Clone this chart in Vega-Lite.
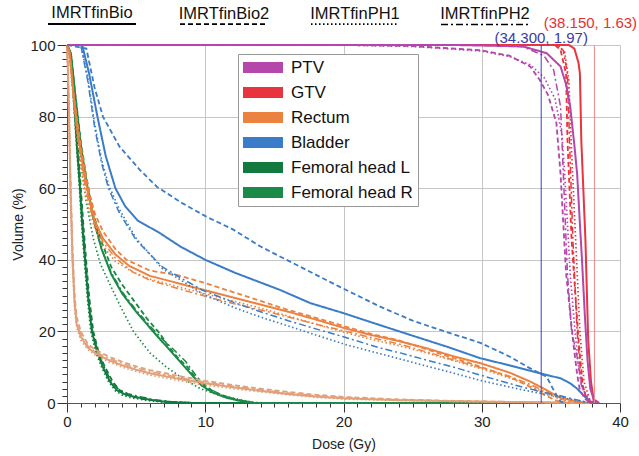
{
"$schema": "https://vega.github.io/schema/vega-lite/v6.json",
"width": 553, "height": 358,
"autosize": {"type": "none"},
"padding": {"left": 67, "top": 45, "right": 19, "bottom": 53},
"config": {"font": "Liberation Sans", "view": {"stroke": null}},
"layer": [
{
"data": {"values": [
{"organ":"Femoral head L","plan":"IMRTfinBio","dose":0,"vol":100},{"organ":"Femoral head L","plan":"IMRTfinBio","dose":0.25,"vol":98},{"organ":"Femoral head L","plan":"IMRTfinBio","dose":0.4,"vol":90},{"organ":"Femoral head L","plan":"IMRTfinBio","dose":0.58,"vol":80},{"organ":"Femoral head L","plan":"IMRTfinBio","dose":0.75,"vol":70},{"organ":"Femoral head L","plan":"IMRTfinBio","dose":0.94,"vol":60},{"organ":"Femoral head L","plan":"IMRTfinBio","dose":1.1,"vol":50},{"organ":"Femoral head L","plan":"IMRTfinBio","dose":1.3,"vol":40},{"organ":"Femoral head L","plan":"IMRTfinBio","dose":1.54,"vol":29},{"organ":"Femoral head L","plan":"IMRTfinBio","dose":1.8,"vol":20},{"organ":"Femoral head L","plan":"IMRTfinBio","dose":2.2,"vol":14},{"organ":"Femoral head L","plan":"IMRTfinBio","dose":2.6,"vol":10},{"organ":"Femoral head L","plan":"IMRTfinBio","dose":3.1,"vol":6},{"organ":"Femoral head L","plan":"IMRTfinBio","dose":3.6,"vol":3.6},{"organ":"Femoral head L","plan":"IMRTfinBio","dose":4.2,"vol":2.4},{"organ":"Femoral head L","plan":"IMRTfinBio","dose":4.8,"vol":1.8},{"organ":"Femoral head L","plan":"IMRTfinBio","dose":6,"vol":0.9},{"organ":"Femoral head L","plan":"IMRTfinBio","dose":7.2,"vol":0.3},{"organ":"Femoral head L","plan":"IMRTfinBio","dose":9,"vol":0},{"organ":"Femoral head L","plan":"IMRTfinBio","dose":38,"vol":0},
{"organ":"Femoral head L","plan":"IMRTfinBio2","dose":0,"vol":100},{"organ":"Femoral head L","plan":"IMRTfinBio2","dose":0.25,"vol":98},{"organ":"Femoral head L","plan":"IMRTfinBio2","dose":0.45,"vol":90},{"organ":"Femoral head L","plan":"IMRTfinBio2","dose":0.65,"vol":80},{"organ":"Femoral head L","plan":"IMRTfinBio2","dose":0.82,"vol":70},{"organ":"Femoral head L","plan":"IMRTfinBio2","dose":1,"vol":60},{"organ":"Femoral head L","plan":"IMRTfinBio2","dose":1.18,"vol":50},{"organ":"Femoral head L","plan":"IMRTfinBio2","dose":1.38,"vol":40},{"organ":"Femoral head L","plan":"IMRTfinBio2","dose":1.62,"vol":29},{"organ":"Femoral head L","plan":"IMRTfinBio2","dose":1.9,"vol":20},{"organ":"Femoral head L","plan":"IMRTfinBio2","dose":2.3,"vol":14},{"organ":"Femoral head L","plan":"IMRTfinBio2","dose":2.75,"vol":10},{"organ":"Femoral head L","plan":"IMRTfinBio2","dose":3.3,"vol":6},{"organ":"Femoral head L","plan":"IMRTfinBio2","dose":3.8,"vol":3.6},{"organ":"Femoral head L","plan":"IMRTfinBio2","dose":4.4,"vol":2.2},{"organ":"Femoral head L","plan":"IMRTfinBio2","dose":5.2,"vol":1.3},{"organ":"Femoral head L","plan":"IMRTfinBio2","dose":6.5,"vol":0.6},{"organ":"Femoral head L","plan":"IMRTfinBio2","dose":8,"vol":0.2},{"organ":"Femoral head L","plan":"IMRTfinBio2","dose":9.5,"vol":0},
{"organ":"Femoral head L","plan":"IMRTfinPH1","dose":0,"vol":100},{"organ":"Femoral head L","plan":"IMRTfinPH1","dose":0.2,"vol":98},{"organ":"Femoral head L","plan":"IMRTfinPH1","dose":0.38,"vol":90},{"organ":"Femoral head L","plan":"IMRTfinPH1","dose":0.55,"vol":80},{"organ":"Femoral head L","plan":"IMRTfinPH1","dose":0.72,"vol":70},{"organ":"Femoral head L","plan":"IMRTfinPH1","dose":0.9,"vol":60},{"organ":"Femoral head L","plan":"IMRTfinPH1","dose":1.05,"vol":50},{"organ":"Femoral head L","plan":"IMRTfinPH1","dose":1.25,"vol":40},{"organ":"Femoral head L","plan":"IMRTfinPH1","dose":1.48,"vol":29},{"organ":"Femoral head L","plan":"IMRTfinPH1","dose":1.72,"vol":20},{"organ":"Femoral head L","plan":"IMRTfinPH1","dose":2.1,"vol":14},{"organ":"Femoral head L","plan":"IMRTfinPH1","dose":2.5,"vol":10},{"organ":"Femoral head L","plan":"IMRTfinPH1","dose":3,"vol":6},{"organ":"Femoral head L","plan":"IMRTfinPH1","dose":3.5,"vol":3.4},{"organ":"Femoral head L","plan":"IMRTfinPH1","dose":4,"vol":2.2},{"organ":"Femoral head L","plan":"IMRTfinPH1","dose":4.6,"vol":1.5},{"organ":"Femoral head L","plan":"IMRTfinPH1","dose":5.8,"vol":0.7},{"organ":"Femoral head L","plan":"IMRTfinPH1","dose":7,"vol":0.2},{"organ":"Femoral head L","plan":"IMRTfinPH1","dose":8.5,"vol":0},
{"organ":"Femoral head L","plan":"IMRTfinPH2","dose":0,"vol":100},{"organ":"Femoral head L","plan":"IMRTfinPH2","dose":0.25,"vol":98},{"organ":"Femoral head L","plan":"IMRTfinPH2","dose":0.42,"vol":90},{"organ":"Femoral head L","plan":"IMRTfinPH2","dose":0.6,"vol":80},{"organ":"Femoral head L","plan":"IMRTfinPH2","dose":0.78,"vol":70},{"organ":"Femoral head L","plan":"IMRTfinPH2","dose":0.97,"vol":60},{"organ":"Femoral head L","plan":"IMRTfinPH2","dose":1.14,"vol":50},{"organ":"Femoral head L","plan":"IMRTfinPH2","dose":1.34,"vol":40},{"organ":"Femoral head L","plan":"IMRTfinPH2","dose":1.58,"vol":29},{"organ":"Femoral head L","plan":"IMRTfinPH2","dose":1.85,"vol":20},{"organ":"Femoral head L","plan":"IMRTfinPH2","dose":2.25,"vol":14},{"organ":"Femoral head L","plan":"IMRTfinPH2","dose":2.7,"vol":10},{"organ":"Femoral head L","plan":"IMRTfinPH2","dose":3.2,"vol":6},{"organ":"Femoral head L","plan":"IMRTfinPH2","dose":3.75,"vol":3.8},{"organ":"Femoral head L","plan":"IMRTfinPH2","dose":4.4,"vol":2.6},{"organ":"Femoral head L","plan":"IMRTfinPH2","dose":5,"vol":2},{"organ":"Femoral head L","plan":"IMRTfinPH2","dose":6.2,"vol":1},{"organ":"Femoral head L","plan":"IMRTfinPH2","dose":7.5,"vol":0.4},{"organ":"Femoral head L","plan":"IMRTfinPH2","dose":9.5,"vol":0},
{"organ":"Femoral head R","plan":"IMRTfinBio","dose":0,"vol":100},{"organ":"Femoral head R","plan":"IMRTfinBio","dose":0.3,"vol":97},{"organ":"Femoral head R","plan":"IMRTfinBio","dose":0.6,"vol":86},{"organ":"Femoral head R","plan":"IMRTfinBio","dose":1,"vol":72},{"organ":"Femoral head R","plan":"IMRTfinBio","dose":1.4,"vol":62},{"organ":"Femoral head R","plan":"IMRTfinBio","dose":1.9,"vol":52},{"organ":"Femoral head R","plan":"IMRTfinBio","dose":2.5,"vol":43},{"organ":"Femoral head R","plan":"IMRTfinBio","dose":3.2,"vol":36},{"organ":"Femoral head R","plan":"IMRTfinBio","dose":4,"vol":30.5},{"organ":"Femoral head R","plan":"IMRTfinBio","dose":5,"vol":25.5},{"organ":"Femoral head R","plan":"IMRTfinBio","dose":6,"vol":21},{"organ":"Femoral head R","plan":"IMRTfinBio","dose":6.8,"vol":17.5},{"organ":"Femoral head R","plan":"IMRTfinBio","dose":7.5,"vol":14.5},{"organ":"Femoral head R","plan":"IMRTfinBio","dose":8.3,"vol":11},{"organ":"Femoral head R","plan":"IMRTfinBio","dose":9,"vol":8},{"organ":"Femoral head R","plan":"IMRTfinBio","dose":9.7,"vol":5},{"organ":"Femoral head R","plan":"IMRTfinBio","dose":10.5,"vol":3},{"organ":"Femoral head R","plan":"IMRTfinBio","dose":11.5,"vol":1.5},{"organ":"Femoral head R","plan":"IMRTfinBio","dose":12.5,"vol":0.6},{"organ":"Femoral head R","plan":"IMRTfinBio","dose":13.5,"vol":0},{"organ":"Femoral head R","plan":"IMRTfinBio","dose":38,"vol":0},
{"organ":"Femoral head R","plan":"IMRTfinBio2","dose":0,"vol":100},{"organ":"Femoral head R","plan":"IMRTfinBio2","dose":0.3,"vol":97},{"organ":"Femoral head R","plan":"IMRTfinBio2","dose":0.6,"vol":86},{"organ":"Femoral head R","plan":"IMRTfinBio2","dose":1,"vol":73},{"organ":"Femoral head R","plan":"IMRTfinBio2","dose":1.4,"vol":63},{"organ":"Femoral head R","plan":"IMRTfinBio2","dose":1.9,"vol":53},{"organ":"Femoral head R","plan":"IMRTfinBio2","dose":2.5,"vol":45},{"organ":"Femoral head R","plan":"IMRTfinBio2","dose":3.2,"vol":38},{"organ":"Femoral head R","plan":"IMRTfinBio2","dose":4,"vol":33},{"organ":"Femoral head R","plan":"IMRTfinBio2","dose":4.8,"vol":28.8},{"organ":"Femoral head R","plan":"IMRTfinBio2","dose":5.8,"vol":23.5},{"organ":"Femoral head R","plan":"IMRTfinBio2","dose":6.7,"vol":19.5},{"organ":"Femoral head R","plan":"IMRTfinBio2","dose":7.4,"vol":15.5},{"organ":"Femoral head R","plan":"IMRTfinBio2","dose":8,"vol":12.7},{"organ":"Femoral head R","plan":"IMRTfinBio2","dose":8.7,"vol":10.1},{"organ":"Femoral head R","plan":"IMRTfinBio2","dose":9.6,"vol":5.6},{"organ":"Femoral head R","plan":"IMRTfinBio2","dose":10.8,"vol":2.8},{"organ":"Femoral head R","plan":"IMRTfinBio2","dose":11.8,"vol":1.4},{"organ":"Femoral head R","plan":"IMRTfinBio2","dose":12.5,"vol":0.8},{"organ":"Femoral head R","plan":"IMRTfinBio2","dose":13.5,"vol":0},
{"organ":"Femoral head R","plan":"IMRTfinPH1","dose":0,"vol":100},{"organ":"Femoral head R","plan":"IMRTfinPH1","dose":0.3,"vol":96},{"organ":"Femoral head R","plan":"IMRTfinPH1","dose":0.6,"vol":83},{"organ":"Femoral head R","plan":"IMRTfinPH1","dose":1,"vol":67},{"organ":"Femoral head R","plan":"IMRTfinPH1","dose":1.4,"vol":56},{"organ":"Femoral head R","plan":"IMRTfinPH1","dose":1.9,"vol":46},{"organ":"Femoral head R","plan":"IMRTfinPH1","dose":2.4,"vol":39},{"organ":"Femoral head R","plan":"IMRTfinPH1","dose":3,"vol":34},{"organ":"Femoral head R","plan":"IMRTfinPH1","dose":3.8,"vol":27.5},{"organ":"Femoral head R","plan":"IMRTfinPH1","dose":4.8,"vol":20},{"organ":"Femoral head R","plan":"IMRTfinPH1","dose":6,"vol":14},{"organ":"Femoral head R","plan":"IMRTfinPH1","dose":7.2,"vol":10},{"organ":"Femoral head R","plan":"IMRTfinPH1","dose":8.4,"vol":6.8},{"organ":"Femoral head R","plan":"IMRTfinPH1","dose":9.6,"vol":4.1},{"organ":"Femoral head R","plan":"IMRTfinPH1","dose":10.8,"vol":2.4},{"organ":"Femoral head R","plan":"IMRTfinPH1","dose":12,"vol":1.4},{"organ":"Femoral head R","plan":"IMRTfinPH1","dose":13,"vol":0.5},{"organ":"Femoral head R","plan":"IMRTfinPH1","dose":13.9,"vol":0},
{"organ":"Femoral head R","plan":"IMRTfinPH2","dose":0,"vol":100},{"organ":"Femoral head R","plan":"IMRTfinPH2","dose":0.3,"vol":97},{"organ":"Femoral head R","plan":"IMRTfinPH2","dose":0.6,"vol":85},{"organ":"Femoral head R","plan":"IMRTfinPH2","dose":1,"vol":71},{"organ":"Femoral head R","plan":"IMRTfinPH2","dose":1.4,"vol":61},{"organ":"Femoral head R","plan":"IMRTfinPH2","dose":1.9,"vol":51},{"organ":"Femoral head R","plan":"IMRTfinPH2","dose":2.5,"vol":43},{"organ":"Femoral head R","plan":"IMRTfinPH2","dose":3.2,"vol":36.5},{"organ":"Femoral head R","plan":"IMRTfinPH2","dose":4,"vol":31},{"organ":"Femoral head R","plan":"IMRTfinPH2","dose":5,"vol":26},{"organ":"Femoral head R","plan":"IMRTfinPH2","dose":6,"vol":21.5},{"organ":"Femoral head R","plan":"IMRTfinPH2","dose":7,"vol":17.5},{"organ":"Femoral head R","plan":"IMRTfinPH2","dose":7.8,"vol":14.6},{"organ":"Femoral head R","plan":"IMRTfinPH2","dose":8.6,"vol":11.5},{"organ":"Femoral head R","plan":"IMRTfinPH2","dose":9.4,"vol":7.3},{"organ":"Femoral head R","plan":"IMRTfinPH2","dose":10.2,"vol":4.2},{"organ":"Femoral head R","plan":"IMRTfinPH2","dose":11.2,"vol":2.2},{"organ":"Femoral head R","plan":"IMRTfinPH2","dose":12.2,"vol":1},{"organ":"Femoral head R","plan":"IMRTfinPH2","dose":13.2,"vol":0.3},{"organ":"Femoral head R","plan":"IMRTfinPH2","dose":14,"vol":0},
{"organ":"Body","plan":"IMRTfinBio","dose":0,"vol":100},{"organ":"Body","plan":"IMRTfinBio","dose":0.05,"vol":95},{"organ":"Body","plan":"IMRTfinBio","dose":0.15,"vol":80},{"organ":"Body","plan":"IMRTfinBio","dose":0.25,"vol":60},{"organ":"Body","plan":"IMRTfinBio","dose":0.4,"vol":40},{"organ":"Body","plan":"IMRTfinBio","dose":0.55,"vol":28},{"organ":"Body","plan":"IMRTfinBio","dose":0.7,"vol":22},{"organ":"Body","plan":"IMRTfinBio","dose":1,"vol":18.5},{"organ":"Body","plan":"IMRTfinBio","dose":1.5,"vol":15.5},{"organ":"Body","plan":"IMRTfinBio","dose":2,"vol":14},{"organ":"Body","plan":"IMRTfinBio","dose":3,"vol":12},{"organ":"Body","plan":"IMRTfinBio","dose":4,"vol":10.5},{"organ":"Body","plan":"IMRTfinBio","dose":5,"vol":9.3},{"organ":"Body","plan":"IMRTfinBio","dose":6,"vol":8.3},{"organ":"Body","plan":"IMRTfinBio","dose":8,"vol":6.8},{"organ":"Body","plan":"IMRTfinBio","dose":10,"vol":5.5},{"organ":"Body","plan":"IMRTfinBio","dose":12,"vol":4.4},{"organ":"Body","plan":"IMRTfinBio","dose":14,"vol":3.4},{"organ":"Body","plan":"IMRTfinBio","dose":16,"vol":2.5},{"organ":"Body","plan":"IMRTfinBio","dose":18,"vol":1.8},{"organ":"Body","plan":"IMRTfinBio","dose":20,"vol":1.3},{"organ":"Body","plan":"IMRTfinBio","dose":24,"vol":0.8},{"organ":"Body","plan":"IMRTfinBio","dose":28,"vol":0.5},{"organ":"Body","plan":"IMRTfinBio","dose":32,"vol":0.3},{"organ":"Body","plan":"IMRTfinBio","dose":36,"vol":0.1},{"organ":"Body","plan":"IMRTfinBio","dose":38,"vol":0},
{"organ":"Body","plan":"IMRTfinBio2","dose":0,"vol":100},{"organ":"Body","plan":"IMRTfinBio2","dose":0.05,"vol":96},{"organ":"Body","plan":"IMRTfinBio2","dose":0.15,"vol":82},{"organ":"Body","plan":"IMRTfinBio2","dose":0.25,"vol":63},{"organ":"Body","plan":"IMRTfinBio2","dose":0.4,"vol":43},{"organ":"Body","plan":"IMRTfinBio2","dose":0.55,"vol":30},{"organ":"Body","plan":"IMRTfinBio2","dose":0.7,"vol":24},{"organ":"Body","plan":"IMRTfinBio2","dose":1,"vol":20},{"organ":"Body","plan":"IMRTfinBio2","dose":1.5,"vol":16.5},{"organ":"Body","plan":"IMRTfinBio2","dose":2,"vol":15},{"organ":"Body","plan":"IMRTfinBio2","dose":3,"vol":13},{"organ":"Body","plan":"IMRTfinBio2","dose":4,"vol":11.5},{"organ":"Body","plan":"IMRTfinBio2","dose":5,"vol":10.2},{"organ":"Body","plan":"IMRTfinBio2","dose":6,"vol":9.2},{"organ":"Body","plan":"IMRTfinBio2","dose":8,"vol":7.6},{"organ":"Body","plan":"IMRTfinBio2","dose":10,"vol":6.2},{"organ":"Body","plan":"IMRTfinBio2","dose":12,"vol":5},{"organ":"Body","plan":"IMRTfinBio2","dose":14,"vol":4},{"organ":"Body","plan":"IMRTfinBio2","dose":16,"vol":3.1},{"organ":"Body","plan":"IMRTfinBio2","dose":18,"vol":2.3},{"organ":"Body","plan":"IMRTfinBio2","dose":20,"vol":1.7},{"organ":"Body","plan":"IMRTfinBio2","dose":24,"vol":1},{"organ":"Body","plan":"IMRTfinBio2","dose":28,"vol":0.6},{"organ":"Body","plan":"IMRTfinBio2","dose":32,"vol":0.3},{"organ":"Body","plan":"IMRTfinBio2","dose":36,"vol":0.1},{"organ":"Body","plan":"IMRTfinBio2","dose":38,"vol":0},
{"organ":"Body","plan":"IMRTfinPH1","dose":0,"vol":100},{"organ":"Body","plan":"IMRTfinPH1","dose":0.05,"vol":94},{"organ":"Body","plan":"IMRTfinPH1","dose":0.15,"vol":78},{"organ":"Body","plan":"IMRTfinPH1","dose":0.25,"vol":58},{"organ":"Body","plan":"IMRTfinPH1","dose":0.4,"vol":38},{"organ":"Body","plan":"IMRTfinPH1","dose":0.55,"vol":26},{"organ":"Body","plan":"IMRTfinPH1","dose":0.7,"vol":21},{"organ":"Body","plan":"IMRTfinPH1","dose":1,"vol":17.5},{"organ":"Body","plan":"IMRTfinPH1","dose":1.5,"vol":15},{"organ":"Body","plan":"IMRTfinPH1","dose":2,"vol":13.5},{"organ":"Body","plan":"IMRTfinPH1","dose":3,"vol":11.5},{"organ":"Body","plan":"IMRTfinPH1","dose":4,"vol":10},{"organ":"Body","plan":"IMRTfinPH1","dose":5,"vol":8.8},{"organ":"Body","plan":"IMRTfinPH1","dose":6,"vol":7.8},{"organ":"Body","plan":"IMRTfinPH1","dose":8,"vol":6.3},{"organ":"Body","plan":"IMRTfinPH1","dose":10,"vol":5},{"organ":"Body","plan":"IMRTfinPH1","dose":12,"vol":4},{"organ":"Body","plan":"IMRTfinPH1","dose":14,"vol":3.1},{"organ":"Body","plan":"IMRTfinPH1","dose":16,"vol":2.3},{"organ":"Body","plan":"IMRTfinPH1","dose":18,"vol":1.6},{"organ":"Body","plan":"IMRTfinPH1","dose":20,"vol":1.1},{"organ":"Body","plan":"IMRTfinPH1","dose":24,"vol":0.7},{"organ":"Body","plan":"IMRTfinPH1","dose":28,"vol":0.4},{"organ":"Body","plan":"IMRTfinPH1","dose":32,"vol":0.2},{"organ":"Body","plan":"IMRTfinPH1","dose":36,"vol":0.1},{"organ":"Body","plan":"IMRTfinPH1","dose":38,"vol":0},
{"organ":"Body","plan":"IMRTfinPH2","dose":0,"vol":100},{"organ":"Body","plan":"IMRTfinPH2","dose":0.05,"vol":95},{"organ":"Body","plan":"IMRTfinPH2","dose":0.15,"vol":80},{"organ":"Body","plan":"IMRTfinPH2","dose":0.25,"vol":61},{"organ":"Body","plan":"IMRTfinPH2","dose":0.4,"vol":41},{"organ":"Body","plan":"IMRTfinPH2","dose":0.55,"vol":29},{"organ":"Body","plan":"IMRTfinPH2","dose":0.7,"vol":23},{"organ":"Body","plan":"IMRTfinPH2","dose":1,"vol":19},{"organ":"Body","plan":"IMRTfinPH2","dose":1.5,"vol":16},{"organ":"Body","plan":"IMRTfinPH2","dose":2,"vol":14.5},{"organ":"Body","plan":"IMRTfinPH2","dose":3,"vol":12.5},{"organ":"Body","plan":"IMRTfinPH2","dose":4,"vol":11},{"organ":"Body","plan":"IMRTfinPH2","dose":5,"vol":9.8},{"organ":"Body","plan":"IMRTfinPH2","dose":6,"vol":8.8},{"organ":"Body","plan":"IMRTfinPH2","dose":8,"vol":7.2},{"organ":"Body","plan":"IMRTfinPH2","dose":10,"vol":5.8},{"organ":"Body","plan":"IMRTfinPH2","dose":12,"vol":4.7},{"organ":"Body","plan":"IMRTfinPH2","dose":14,"vol":3.7},{"organ":"Body","plan":"IMRTfinPH2","dose":16,"vol":2.8},{"organ":"Body","plan":"IMRTfinPH2","dose":18,"vol":2},{"organ":"Body","plan":"IMRTfinPH2","dose":20,"vol":1.5},{"organ":"Body","plan":"IMRTfinPH2","dose":24,"vol":0.9},{"organ":"Body","plan":"IMRTfinPH2","dose":28,"vol":0.5},{"organ":"Body","plan":"IMRTfinPH2","dose":32,"vol":0.3},{"organ":"Body","plan":"IMRTfinPH2","dose":36,"vol":0.1},{"organ":"Body","plan":"IMRTfinPH2","dose":38,"vol":0},
{"organ":"Rectum","plan":"IMRTfinBio","dose":0,"vol":100},{"organ":"Rectum","plan":"IMRTfinBio","dose":0.2,"vol":98},{"organ":"Rectum","plan":"IMRTfinBio","dose":0.5,"vol":85},{"organ":"Rectum","plan":"IMRTfinBio","dose":0.8,"vol":75},{"organ":"Rectum","plan":"IMRTfinBio","dose":1.2,"vol":65},{"organ":"Rectum","plan":"IMRTfinBio","dose":1.6,"vol":57},{"organ":"Rectum","plan":"IMRTfinBio","dose":2,"vol":51},{"organ":"Rectum","plan":"IMRTfinBio","dose":2.6,"vol":46},{"organ":"Rectum","plan":"IMRTfinBio","dose":3.5,"vol":41.5},{"organ":"Rectum","plan":"IMRTfinBio","dose":4.5,"vol":38.3},{"organ":"Rectum","plan":"IMRTfinBio","dose":6,"vol":35.5},{"organ":"Rectum","plan":"IMRTfinBio","dose":8,"vol":33.5},{"organ":"Rectum","plan":"IMRTfinBio","dose":10,"vol":31.5},{"organ":"Rectum","plan":"IMRTfinBio","dose":12,"vol":29.5},{"organ":"Rectum","plan":"IMRTfinBio","dose":14,"vol":27.5},{"organ":"Rectum","plan":"IMRTfinBio","dose":16,"vol":25.5},{"organ":"Rectum","plan":"IMRTfinBio","dose":18,"vol":23.3},{"organ":"Rectum","plan":"IMRTfinBio","dose":20,"vol":21},{"organ":"Rectum","plan":"IMRTfinBio","dose":22,"vol":19},{"organ":"Rectum","plan":"IMRTfinBio","dose":24,"vol":17.3},{"organ":"Rectum","plan":"IMRTfinBio","dose":26,"vol":15.3},{"organ":"Rectum","plan":"IMRTfinBio","dose":28,"vol":13},{"organ":"Rectum","plan":"IMRTfinBio","dose":30,"vol":11},{"organ":"Rectum","plan":"IMRTfinBio","dose":32,"vol":8.5},{"organ":"Rectum","plan":"IMRTfinBio","dose":33.5,"vol":6},{"organ":"Rectum","plan":"IMRTfinBio","dose":34.7,"vol":3.6},{"organ":"Rectum","plan":"IMRTfinBio","dose":35.5,"vol":1.8},{"organ":"Rectum","plan":"IMRTfinBio","dose":36.6,"vol":0.6},{"organ":"Rectum","plan":"IMRTfinBio","dose":37.5,"vol":0},
{"organ":"Rectum","plan":"IMRTfinBio2","dose":0,"vol":100},{"organ":"Rectum","plan":"IMRTfinBio2","dose":0.2,"vol":97},{"organ":"Rectum","plan":"IMRTfinBio2","dose":0.5,"vol":86},{"organ":"Rectum","plan":"IMRTfinBio2","dose":0.8,"vol":77},{"organ":"Rectum","plan":"IMRTfinBio2","dose":1.2,"vol":67},{"organ":"Rectum","plan":"IMRTfinBio2","dose":1.6,"vol":59},{"organ":"Rectum","plan":"IMRTfinBio2","dose":2,"vol":53},{"organ":"Rectum","plan":"IMRTfinBio2","dose":2.6,"vol":48},{"organ":"Rectum","plan":"IMRTfinBio2","dose":3.5,"vol":43},{"organ":"Rectum","plan":"IMRTfinBio2","dose":4.3,"vol":40},{"organ":"Rectum","plan":"IMRTfinBio2","dose":6,"vol":37},{"organ":"Rectum","plan":"IMRTfinBio2","dose":8,"vol":35.7},{"organ":"Rectum","plan":"IMRTfinBio2","dose":10,"vol":33.5},{"organ":"Rectum","plan":"IMRTfinBio2","dose":12,"vol":31},{"organ":"Rectum","plan":"IMRTfinBio2","dose":14,"vol":28.5},{"organ":"Rectum","plan":"IMRTfinBio2","dose":16,"vol":26},{"organ":"Rectum","plan":"IMRTfinBio2","dose":18,"vol":23.8},{"organ":"Rectum","plan":"IMRTfinBio2","dose":20,"vol":21.5},{"organ":"Rectum","plan":"IMRTfinBio2","dose":22,"vol":19.3},{"organ":"Rectum","plan":"IMRTfinBio2","dose":24,"vol":17.5},{"organ":"Rectum","plan":"IMRTfinBio2","dose":26,"vol":15},{"organ":"Rectum","plan":"IMRTfinBio2","dose":28,"vol":12.5},{"organ":"Rectum","plan":"IMRTfinBio2","dose":30,"vol":10},{"organ":"Rectum","plan":"IMRTfinBio2","dose":32,"vol":7.3},{"organ":"Rectum","plan":"IMRTfinBio2","dose":33.5,"vol":4.5},{"organ":"Rectum","plan":"IMRTfinBio2","dose":34.5,"vol":2.3},{"organ":"Rectum","plan":"IMRTfinBio2","dose":35.5,"vol":0.5},{"organ":"Rectum","plan":"IMRTfinBio2","dose":36,"vol":0},
{"organ":"Rectum","plan":"IMRTfinPH1","dose":0,"vol":100},{"organ":"Rectum","plan":"IMRTfinPH1","dose":0.2,"vol":96},{"organ":"Rectum","plan":"IMRTfinPH1","dose":0.5,"vol":83},{"organ":"Rectum","plan":"IMRTfinPH1","dose":0.8,"vol":72},{"organ":"Rectum","plan":"IMRTfinPH1","dose":1.2,"vol":61},{"organ":"Rectum","plan":"IMRTfinPH1","dose":1.6,"vol":54},{"organ":"Rectum","plan":"IMRTfinPH1","dose":2,"vol":49},{"organ":"Rectum","plan":"IMRTfinPH1","dose":2.6,"vol":44},{"organ":"Rectum","plan":"IMRTfinPH1","dose":3.5,"vol":39.5},{"organ":"Rectum","plan":"IMRTfinPH1","dose":4.8,"vol":36.5},{"organ":"Rectum","plan":"IMRTfinPH1","dose":6,"vol":34.6},{"organ":"Rectum","plan":"IMRTfinPH1","dose":8,"vol":32.5},{"organ":"Rectum","plan":"IMRTfinPH1","dose":10,"vol":30.5},{"organ":"Rectum","plan":"IMRTfinPH1","dose":12,"vol":28.5},{"organ":"Rectum","plan":"IMRTfinPH1","dose":14,"vol":26.5},{"organ":"Rectum","plan":"IMRTfinPH1","dose":16,"vol":24.3},{"organ":"Rectum","plan":"IMRTfinPH1","dose":18,"vol":22},{"organ":"Rectum","plan":"IMRTfinPH1","dose":20,"vol":19.8},{"organ":"Rectum","plan":"IMRTfinPH1","dose":22,"vol":17.8},{"organ":"Rectum","plan":"IMRTfinPH1","dose":24,"vol":16},{"organ":"Rectum","plan":"IMRTfinPH1","dose":26,"vol":14},{"organ":"Rectum","plan":"IMRTfinPH1","dose":28,"vol":11.8},{"organ":"Rectum","plan":"IMRTfinPH1","dose":30,"vol":9.5},{"organ":"Rectum","plan":"IMRTfinPH1","dose":32,"vol":7},{"organ":"Rectum","plan":"IMRTfinPH1","dose":33.5,"vol":4.8},{"organ":"Rectum","plan":"IMRTfinPH1","dose":34.7,"vol":2.6},{"organ":"Rectum","plan":"IMRTfinPH1","dose":35.8,"vol":0.8},{"organ":"Rectum","plan":"IMRTfinPH1","dose":36.5,"vol":0},
{"organ":"Rectum","plan":"IMRTfinPH2","dose":0,"vol":100},{"organ":"Rectum","plan":"IMRTfinPH2","dose":0.2,"vol":97},{"organ":"Rectum","plan":"IMRTfinPH2","dose":0.5,"vol":84},{"organ":"Rectum","plan":"IMRTfinPH2","dose":0.8,"vol":74},{"organ":"Rectum","plan":"IMRTfinPH2","dose":1.2,"vol":63},{"organ":"Rectum","plan":"IMRTfinPH2","dose":1.6,"vol":55.5},{"organ":"Rectum","plan":"IMRTfinPH2","dose":2,"vol":50},{"organ":"Rectum","plan":"IMRTfinPH2","dose":2.6,"vol":45},{"organ":"Rectum","plan":"IMRTfinPH2","dose":3.5,"vol":40.5},{"organ":"Rectum","plan":"IMRTfinPH2","dose":4.8,"vol":36.5},{"organ":"Rectum","plan":"IMRTfinPH2","dose":6,"vol":34.3},{"organ":"Rectum","plan":"IMRTfinPH2","dose":8,"vol":32},{"organ":"Rectum","plan":"IMRTfinPH2","dose":10,"vol":29.8},{"organ":"Rectum","plan":"IMRTfinPH2","dose":12,"vol":27.8},{"organ":"Rectum","plan":"IMRTfinPH2","dose":14,"vol":26},{"organ":"Rectum","plan":"IMRTfinPH2","dose":16,"vol":24},{"organ":"Rectum","plan":"IMRTfinPH2","dose":18,"vol":22},{"organ":"Rectum","plan":"IMRTfinPH2","dose":20,"vol":20.2},{"organ":"Rectum","plan":"IMRTfinPH2","dose":22,"vol":18.3},{"organ":"Rectum","plan":"IMRTfinPH2","dose":24,"vol":16.5},{"organ":"Rectum","plan":"IMRTfinPH2","dose":26,"vol":14.3},{"organ":"Rectum","plan":"IMRTfinPH2","dose":28,"vol":12},{"organ":"Rectum","plan":"IMRTfinPH2","dose":30,"vol":9.8},{"organ":"Rectum","plan":"IMRTfinPH2","dose":32,"vol":7.5},{"organ":"Rectum","plan":"IMRTfinPH2","dose":33.5,"vol":5.2},{"organ":"Rectum","plan":"IMRTfinPH2","dose":34.7,"vol":3},{"organ":"Rectum","plan":"IMRTfinPH2","dose":35.8,"vol":1},{"organ":"Rectum","plan":"IMRTfinPH2","dose":37,"vol":0},
{"organ":"Bladder","plan":"IMRTfinBio","dose":0,"vol":100},{"organ":"Bladder","plan":"IMRTfinBio","dose":1.1,"vol":100},{"organ":"Bladder","plan":"IMRTfinBio","dose":1.6,"vol":92},{"organ":"Bladder","plan":"IMRTfinBio","dose":2.2,"vol":80},{"organ":"Bladder","plan":"IMRTfinBio","dose":2.8,"vol":69},{"organ":"Bladder","plan":"IMRTfinBio","dose":3.5,"vol":60},{"organ":"Bladder","plan":"IMRTfinBio","dose":4.2,"vol":55},{"organ":"Bladder","plan":"IMRTfinBio","dose":5.1,"vol":51},{"organ":"Bladder","plan":"IMRTfinBio","dose":6.7,"vol":47.5},{"organ":"Bladder","plan":"IMRTfinBio","dose":8.2,"vol":43.7},{"organ":"Bladder","plan":"IMRTfinBio","dose":10,"vol":40},{"organ":"Bladder","plan":"IMRTfinBio","dose":12.2,"vol":36.3},{"organ":"Bladder","plan":"IMRTfinBio","dose":15.4,"vol":31.6},{"organ":"Bladder","plan":"IMRTfinBio","dose":17.6,"vol":27.9},{"organ":"Bladder","plan":"IMRTfinBio","dose":20,"vol":25.1},{"organ":"Bladder","plan":"IMRTfinBio","dose":22.6,"vol":21.8},{"organ":"Bladder","plan":"IMRTfinBio","dose":25,"vol":18.8},{"organ":"Bladder","plan":"IMRTfinBio","dose":27.5,"vol":15.7},{"organ":"Bladder","plan":"IMRTfinBio","dose":29.9,"vol":12.5},{"organ":"Bladder","plan":"IMRTfinBio","dose":31.5,"vol":11},{"organ":"Bladder","plan":"IMRTfinBio","dose":32.8,"vol":9.7},{"organ":"Bladder","plan":"IMRTfinBio","dose":34.5,"vol":8},{"organ":"Bladder","plan":"IMRTfinBio","dose":35.7,"vol":6.9},{"organ":"Bladder","plan":"IMRTfinBio","dose":36.4,"vol":5.5},{"organ":"Bladder","plan":"IMRTfinBio","dose":36.9,"vol":4},{"organ":"Bladder","plan":"IMRTfinBio","dose":37.4,"vol":2},{"organ":"Bladder","plan":"IMRTfinBio","dose":37.8,"vol":0.4},{"organ":"Bladder","plan":"IMRTfinBio","dose":38.3,"vol":0},
{"organ":"Bladder","plan":"IMRTfinBio2","dose":0,"vol":100},{"organ":"Bladder","plan":"IMRTfinBio2","dose":1.4,"vol":99},{"organ":"Bladder","plan":"IMRTfinBio2","dose":2,"vol":88},{"organ":"Bladder","plan":"IMRTfinBio2","dose":2.6,"vol":80},{"organ":"Bladder","plan":"IMRTfinBio2","dose":3.8,"vol":71.6},{"organ":"Bladder","plan":"IMRTfinBio2","dose":5.3,"vol":65},{"organ":"Bladder","plan":"IMRTfinBio2","dose":6.5,"vol":60.4},{"organ":"Bladder","plan":"IMRTfinBio2","dose":8.3,"vol":55.9},{"organ":"Bladder","plan":"IMRTfinBio2","dose":10.1,"vol":52},{"organ":"Bladder","plan":"IMRTfinBio2","dose":12,"vol":48.5},{"organ":"Bladder","plan":"IMRTfinBio2","dose":14,"vol":43.7},{"organ":"Bladder","plan":"IMRTfinBio2","dose":16.9,"vol":38},{"organ":"Bladder","plan":"IMRTfinBio2","dose":19.7,"vol":32.5},{"organ":"Bladder","plan":"IMRTfinBio2","dose":22.6,"vol":27},{"organ":"Bladder","plan":"IMRTfinBio2","dose":25,"vol":23},{"organ":"Bladder","plan":"IMRTfinBio2","dose":27,"vol":20.4},{"organ":"Bladder","plan":"IMRTfinBio2","dose":29.9,"vol":16.8},{"organ":"Bladder","plan":"IMRTfinBio2","dose":32,"vol":13},{"organ":"Bladder","plan":"IMRTfinBio2","dose":33.3,"vol":10.1},{"organ":"Bladder","plan":"IMRTfinBio2","dose":34.7,"vol":7.3},{"organ":"Bladder","plan":"IMRTfinBio2","dose":35.2,"vol":3.6},{"organ":"Bladder","plan":"IMRTfinBio2","dose":35.7,"vol":0.4},{"organ":"Bladder","plan":"IMRTfinBio2","dose":36,"vol":0},
{"organ":"Bladder","plan":"IMRTfinPH1","dose":0,"vol":100},{"organ":"Bladder","plan":"IMRTfinPH1","dose":1,"vol":100},{"organ":"Bladder","plan":"IMRTfinPH1","dose":1.5,"vol":91},{"organ":"Bladder","plan":"IMRTfinPH1","dose":2,"vol":78},{"organ":"Bladder","plan":"IMRTfinPH1","dose":2.5,"vol":68},{"organ":"Bladder","plan":"IMRTfinPH1","dose":3,"vol":61},{"organ":"Bladder","plan":"IMRTfinPH1","dose":3.8,"vol":54},{"organ":"Bladder","plan":"IMRTfinPH1","dose":5,"vol":46},{"organ":"Bladder","plan":"IMRTfinPH1","dose":6.9,"vol":37.5},{"organ":"Bladder","plan":"IMRTfinPH1","dose":8.2,"vol":34.4},{"organ":"Bladder","plan":"IMRTfinPH1","dose":9.8,"vol":30.5},{"organ":"Bladder","plan":"IMRTfinPH1","dose":12.2,"vol":26.5},{"organ":"Bladder","plan":"IMRTfinPH1","dose":14,"vol":24},{"organ":"Bladder","plan":"IMRTfinPH1","dose":16,"vol":21.5},{"organ":"Bladder","plan":"IMRTfinPH1","dose":18,"vol":19},{"organ":"Bladder","plan":"IMRTfinPH1","dose":20,"vol":16.5},{"organ":"Bladder","plan":"IMRTfinPH1","dose":22.6,"vol":13.8},{"organ":"Bladder","plan":"IMRTfinPH1","dose":24.1,"vol":12.3},{"organ":"Bladder","plan":"IMRTfinPH1","dose":26,"vol":10.3},{"organ":"Bladder","plan":"IMRTfinPH1","dose":28,"vol":8.3},{"organ":"Bladder","plan":"IMRTfinPH1","dose":29.9,"vol":6.3},{"organ":"Bladder","plan":"IMRTfinPH1","dose":31.5,"vol":4.9},{"organ":"Bladder","plan":"IMRTfinPH1","dose":32.8,"vol":3.8},{"organ":"Bladder","plan":"IMRTfinPH1","dose":34.5,"vol":2.5},{"organ":"Bladder","plan":"IMRTfinPH1","dose":35.7,"vol":1.6},{"organ":"Bladder","plan":"IMRTfinPH1","dose":36.5,"vol":1},{"organ":"Bladder","plan":"IMRTfinPH1","dose":37.5,"vol":0.3},{"organ":"Bladder","plan":"IMRTfinPH1","dose":38,"vol":0},
{"organ":"Bladder","plan":"IMRTfinPH2","dose":0,"vol":100},{"organ":"Bladder","plan":"IMRTfinPH2","dose":1,"vol":100},{"organ":"Bladder","plan":"IMRTfinPH2","dose":1.5,"vol":90},{"organ":"Bladder","plan":"IMRTfinPH2","dose":2,"vol":77},{"organ":"Bladder","plan":"IMRTfinPH2","dose":2.5,"vol":67},{"organ":"Bladder","plan":"IMRTfinPH2","dose":3,"vol":60},{"organ":"Bladder","plan":"IMRTfinPH2","dose":3.8,"vol":53},{"organ":"Bladder","plan":"IMRTfinPH2","dose":5,"vol":45.5},{"organ":"Bladder","plan":"IMRTfinPH2","dose":6.9,"vol":38},{"organ":"Bladder","plan":"IMRTfinPH2","dose":8.2,"vol":35},{"organ":"Bladder","plan":"IMRTfinPH2","dose":9.8,"vol":31.5},{"organ":"Bladder","plan":"IMRTfinPH2","dose":12.2,"vol":27.9},{"organ":"Bladder","plan":"IMRTfinPH2","dose":14,"vol":25.5},{"organ":"Bladder","plan":"IMRTfinPH2","dose":16,"vol":23},{"organ":"Bladder","plan":"IMRTfinPH2","dose":18,"vol":20.7},{"organ":"Bladder","plan":"IMRTfinPH2","dose":20,"vol":18.5},{"organ":"Bladder","plan":"IMRTfinPH2","dose":22.6,"vol":15.4},{"organ":"Bladder","plan":"IMRTfinPH2","dose":24.1,"vol":14},{"organ":"Bladder","plan":"IMRTfinPH2","dose":26,"vol":12},{"organ":"Bladder","plan":"IMRTfinPH2","dose":28,"vol":10},{"organ":"Bladder","plan":"IMRTfinPH2","dose":29.9,"vol":7.8},{"organ":"Bladder","plan":"IMRTfinPH2","dose":31.5,"vol":6},{"organ":"Bladder","plan":"IMRTfinPH2","dose":32.8,"vol":4.6},{"organ":"Bladder","plan":"IMRTfinPH2","dose":34.5,"vol":3},{"organ":"Bladder","plan":"IMRTfinPH2","dose":35.7,"vol":2},{"organ":"Bladder","plan":"IMRTfinPH2","dose":36.5,"vol":1.2},{"organ":"Bladder","plan":"IMRTfinPH2","dose":37.5,"vol":0.3},{"organ":"Bladder","plan":"IMRTfinPH2","dose":38,"vol":0},
{"organ":"GTV","plan":"IMRTfinBio","dose":0,"vol":100},{"organ":"GTV","plan":"IMRTfinBio","dose":36.3,"vol":100},{"organ":"GTV","plan":"IMRTfinBio","dose":36.7,"vol":99},{"organ":"GTV","plan":"IMRTfinBio","dose":37,"vol":95},{"organ":"GTV","plan":"IMRTfinBio","dose":37.1,"vol":92},{"organ":"GTV","plan":"IMRTfinBio","dose":37.2,"vol":73.5},{"organ":"GTV","plan":"IMRTfinBio","dose":37.5,"vol":45.5},{"organ":"GTV","plan":"IMRTfinBio","dose":37.7,"vol":17.6},{"organ":"GTV","plan":"IMRTfinBio","dose":37.9,"vol":6},{"organ":"GTV","plan":"IMRTfinBio","dose":38.1,"vol":0.8},{"organ":"GTV","plan":"IMRTfinBio","dose":38.3,"vol":0},
{"organ":"GTV","plan":"IMRTfinBio2","dose":0,"vol":100},{"organ":"GTV","plan":"IMRTfinBio2","dose":35.3,"vol":100},{"organ":"GTV","plan":"IMRTfinBio2","dose":35.7,"vol":98.6},{"organ":"GTV","plan":"IMRTfinBio2","dose":36.1,"vol":92},{"organ":"GTV","plan":"IMRTfinBio2","dose":36.2,"vol":73.5},{"organ":"GTV","plan":"IMRTfinBio2","dose":36.5,"vol":45.5},{"organ":"GTV","plan":"IMRTfinBio2","dose":37,"vol":17.6},{"organ":"GTV","plan":"IMRTfinBio2","dose":37.3,"vol":5},{"organ":"GTV","plan":"IMRTfinBio2","dose":37.6,"vol":0.8},{"organ":"GTV","plan":"IMRTfinBio2","dose":37.9,"vol":0},
{"organ":"GTV","plan":"IMRTfinPH1","dose":0,"vol":100},{"organ":"GTV","plan":"IMRTfinPH1","dose":35.5,"vol":100},{"organ":"GTV","plan":"IMRTfinPH1","dose":36,"vol":98},{"organ":"GTV","plan":"IMRTfinPH1","dose":36.3,"vol":90},{"organ":"GTV","plan":"IMRTfinPH1","dose":36.5,"vol":70},{"organ":"GTV","plan":"IMRTfinPH1","dose":36.8,"vol":45},{"organ":"GTV","plan":"IMRTfinPH1","dose":37.1,"vol":20},{"organ":"GTV","plan":"IMRTfinPH1","dose":37.4,"vol":6},{"organ":"GTV","plan":"IMRTfinPH1","dose":37.8,"vol":1},{"organ":"GTV","plan":"IMRTfinPH1","dose":38.1,"vol":0},
{"organ":"GTV","plan":"IMRTfinPH2","dose":0,"vol":100},{"organ":"GTV","plan":"IMRTfinPH2","dose":35.4,"vol":100},{"organ":"GTV","plan":"IMRTfinPH2","dose":35.9,"vol":98.5},{"organ":"GTV","plan":"IMRTfinPH2","dose":36.2,"vol":92},{"organ":"GTV","plan":"IMRTfinPH2","dose":36.35,"vol":73},{"organ":"GTV","plan":"IMRTfinPH2","dose":36.6,"vol":45},{"organ":"GTV","plan":"IMRTfinPH2","dose":36.9,"vol":20},{"organ":"GTV","plan":"IMRTfinPH2","dose":37.2,"vol":6},{"organ":"GTV","plan":"IMRTfinPH2","dose":37.6,"vol":1},{"organ":"GTV","plan":"IMRTfinPH2","dose":37.9,"vol":0},
{"organ":"PTV","plan":"IMRTfinBio","dose":0,"vol":100},{"organ":"PTV","plan":"IMRTfinBio","dose":28,"vol":100},{"organ":"PTV","plan":"IMRTfinBio","dose":33,"vol":99.6},{"organ":"PTV","plan":"IMRTfinBio","dose":34.7,"vol":97.7},{"organ":"PTV","plan":"IMRTfinBio","dose":35.7,"vol":94},{"organ":"PTV","plan":"IMRTfinBio","dose":36.1,"vol":89},{"organ":"PTV","plan":"IMRTfinBio","dose":36.4,"vol":82.8},{"organ":"PTV","plan":"IMRTfinBio","dose":36.7,"vol":72},{"organ":"PTV","plan":"IMRTfinBio","dose":36.9,"vol":64},{"organ":"PTV","plan":"IMRTfinBio","dose":37.1,"vol":50},{"organ":"PTV","plan":"IMRTfinBio","dose":37.25,"vol":40},{"organ":"PTV","plan":"IMRTfinBio","dose":37.45,"vol":25},{"organ":"PTV","plan":"IMRTfinBio","dose":37.65,"vol":12},{"organ":"PTV","plan":"IMRTfinBio","dose":37.85,"vol":4},{"organ":"PTV","plan":"IMRTfinBio","dose":38.1,"vol":1},{"organ":"PTV","plan":"IMRTfinBio","dose":38.5,"vol":0},
{"organ":"PTV","plan":"IMRTfinBio2","dose":0,"vol":100},{"organ":"PTV","plan":"IMRTfinBio2","dose":20,"vol":100},{"organ":"PTV","plan":"IMRTfinBio2","dose":25,"vol":99.7},{"organ":"PTV","plan":"IMRTfinBio2","dose":30,"vol":98.5},{"organ":"PTV","plan":"IMRTfinBio2","dose":32,"vol":97},{"organ":"PTV","plan":"IMRTfinBio2","dose":33.5,"vol":94},{"organ":"PTV","plan":"IMRTfinBio2","dose":34.2,"vol":90.2},{"organ":"PTV","plan":"IMRTfinBio2","dose":34.8,"vol":86},{"organ":"PTV","plan":"IMRTfinBio2","dose":35.4,"vol":78.2},{"organ":"PTV","plan":"IMRTfinBio2","dose":35.7,"vol":64},{"organ":"PTV","plan":"IMRTfinBio2","dose":35.9,"vol":50},{"organ":"PTV","plan":"IMRTfinBio2","dose":36.1,"vol":36.3},{"organ":"PTV","plan":"IMRTfinBio2","dose":36.4,"vol":25},{"organ":"PTV","plan":"IMRTfinBio2","dose":36.6,"vol":17.6},{"organ":"PTV","plan":"IMRTfinBio2","dose":36.9,"vol":8},{"organ":"PTV","plan":"IMRTfinBio2","dose":37.1,"vol":3.6},{"organ":"PTV","plan":"IMRTfinBio2","dose":37.5,"vol":1},{"organ":"PTV","plan":"IMRTfinBio2","dose":38,"vol":0},
{"organ":"PTV","plan":"IMRTfinPH1","dose":0,"vol":100},{"organ":"PTV","plan":"IMRTfinPH1","dose":20,"vol":100},{"organ":"PTV","plan":"IMRTfinPH1","dose":25,"vol":99.6},{"organ":"PTV","plan":"IMRTfinPH1","dose":30,"vol":98.3},{"organ":"PTV","plan":"IMRTfinPH1","dose":32,"vol":96.8},{"organ":"PTV","plan":"IMRTfinPH1","dose":33.5,"vol":94.5},{"organ":"PTV","plan":"IMRTfinPH1","dose":34.5,"vol":91},{"organ":"PTV","plan":"IMRTfinPH1","dose":35.3,"vol":85},{"organ":"PTV","plan":"IMRTfinPH1","dose":35.8,"vol":75},{"organ":"PTV","plan":"IMRTfinPH1","dose":36,"vol":64},{"organ":"PTV","plan":"IMRTfinPH1","dose":36.2,"vol":50},{"organ":"PTV","plan":"IMRTfinPH1","dose":36.4,"vol":36},{"organ":"PTV","plan":"IMRTfinPH1","dose":36.7,"vol":22},{"organ":"PTV","plan":"IMRTfinPH1","dose":37,"vol":10},{"organ":"PTV","plan":"IMRTfinPH1","dose":37.3,"vol":4},{"organ":"PTV","plan":"IMRTfinPH1","dose":37.8,"vol":1},{"organ":"PTV","plan":"IMRTfinPH1","dose":38.3,"vol":0},
{"organ":"PTV","plan":"IMRTfinPH2","dose":0,"vol":100},{"organ":"PTV","plan":"IMRTfinPH2","dose":30,"vol":100},{"organ":"PTV","plan":"IMRTfinPH2","dose":33,"vol":99.5},{"organ":"PTV","plan":"IMRTfinPH2","dose":34.5,"vol":97},{"organ":"PTV","plan":"IMRTfinPH2","dose":35.2,"vol":93},{"organ":"PTV","plan":"IMRTfinPH2","dose":35.7,"vol":82.8},{"organ":"PTV","plan":"IMRTfinPH2","dose":35.9,"vol":64},{"organ":"PTV","plan":"IMRTfinPH2","dose":36.2,"vol":36},{"organ":"PTV","plan":"IMRTfinPH2","dose":36.5,"vol":20},{"organ":"PTV","plan":"IMRTfinPH2","dose":36.9,"vol":12.9},{"organ":"PTV","plan":"IMRTfinPH2","dose":37.2,"vol":5},{"organ":"PTV","plan":"IMRTfinPH2","dose":37.6,"vol":1.5},{"organ":"PTV","plan":"IMRTfinPH2","dose":38,"vol":0}
]},
"mark": {"type": "line"},
"encoding": {
"x": {"field": "dose", "type": "quantitative", "title": "Dose (Gy)",
 "scale": {"domain": [0, 40], "nice": false},
 "axis": {"values": [0,1,2,3,4,5,6,7,8,9,10,11,12,13,14,15,16,17,18,19,20,21,22,23,24,25,26,27,28,29,30,31,32,33,34,35,36,37,38,39,40],
  "tickCount": 200, "format": "d",
  "labelExpr": "datum.value % 10 === 0 ? datum.label : ''", "labelOverlap": false, "labelFlush": false,
  "tickSize": {"condition": {"test": "datum.value % 10 === 0", "value": 9}, "value": 4},
  "gridOpacity": {"condition": {"test": "datum.value % 10 === 0", "value": 1}, "value": 0},
  "gridColor": "#c6c6c6", "domainColor": "#555", "tickColor": "#333", "tickWidth": 1,
  "labelFontSize": 15, "labelColor": "#222", "labelPadding": 2,
  "titleFontSize": 14, "titleFontWeight": "normal", "titleColor": "#222", "titlePadding": 8}},
"y": {"field": "vol", "type": "quantitative", "title": "Volume (%)",
 "scale": {"domain": [0, 100], "nice": false},
 "axis": {"values": [0,2,4,6,8,10,12,14,16,18,20,22,24,26,28,30,32,34,36,38,40,42,44,46,48,50,52,54,56,58,60,62,64,66,68,70,72,74,76,78,80,82,84,86,88,90,92,94,96,98,100],
  "tickCount": 200, "format": "d",
  "labelExpr": "datum.value % 20 === 0 ? datum.label : ''", "labelOverlap": false, "labelFlush": false,
  "tickSize": {"condition": {"test": "datum.value % 20 === 0", "value": 10}, "value": 5},
  "gridOpacity": {"condition": {"test": "datum.value % 20 === 0", "value": 1}, "value": 0},
  "gridColor": "#c6c6c6", "domainColor": "#555", "tickColor": "#333", "tickWidth": 1,
  "labelFontSize": 15, "labelColor": "#222", "labelPadding": 2,
  "titleFontSize": 14, "titleFontWeight": "normal", "titleColor": "#222", "titlePadding": 4}},
"color": {"field": "organ", "type": "nominal",
 "scale": {"domain": ["PTV","GTV","Rectum","Bladder","Femoral head L","Femoral head R","Body"],
  "range": ["#b446ac","#e8343c","#ec8240","#3a7cc8","#127a3e","#1b8a48","#e2a07a"]},
 "legend": {"title": null, "orient": "none", "legendX": 171, "legendY": 9,
  "values": ["PTV","GTV","Rectum","Bladder","Femoral head L","Femoral head R"],
  "symbolType": "M-4,-0.9H4M-4,-0.54H4M-4,-0.18H4M-4,0.18H4M-4,0.54H4M-4,0.9H4", "symbolSize": 100, "symbolStrokeWidth": 2,
  "symbolOffset": 11.5, "labelOffset": 19.5,
  "labelFontSize": 17, "labelColor": "#111", "rowPadding": 7,
  "padding": 5, "strokeColor": "#999", "fillColor": "white", "labelLimit": 300}},
"strokeDash": {"field": "plan", "type": "nominal",
 "scale": {"domain": ["IMRTfinBio","IMRTfinBio2","IMRTfinPH1","IMRTfinPH2"],
  "range": [[1,0],[5,3],[1.5,2.5],[7,3,2,3]]},
 "legend": {"title": null, "orient": "none", "legendX": 16.75, "legendY": -32, "direction": "horizontal", "columns": 4,
  "symbolType": "M-8.8,0.5H8.8", "symbolSize": 100, "symbolStrokeWidth": 2.5, "symbolStrokeColor": "black",
  "labelAlign": "center", "labelOffset": -8.25, "labelBaseline": "bottom", "labelFontSize": 16.5, "labelColor": "#111",
  "columnPadding": 35, "padding": 0, "labelLimit": 300}},
"strokeWidth": {"field": "plan", "type": "ordinal",
 "scale": {"domain": ["IMRTfinBio","IMRTfinBio2","IMRTfinPH1","IMRTfinPH2"], "range": [2, 1.5, 1.5, 1.5]},
 "legend": null}
}
},
{"data": {"values": [{"dose": 34.3}]}, "mark": {"type": "rule", "color": "#3c3cc8", "strokeWidth": 1}, "encoding": {"x": {"field": "dose", "type": "quantitative"}}},
{"data": {"values": [{"dose": 38.15}]}, "mark": {"type": "rule", "color": "#f08a8a", "strokeWidth": 1}, "encoding": {"x": {"field": "dose", "type": "quantitative"}}},
{"data": {"values": [{"dose": 34.3, "vol": 1.97, "label": "(34.300, 1.97)"}]}, "mark": {"type": "text", "color": "#3a3aaa", "fontSize": 15, "dy": -7, "baseline": "middle"}, "encoding": {"x": {"field": "dose", "type": "quantitative"}, "y": {"datum": 100}, "text": {"field": "label"}}},
{"data": {"values": [{"dose": 38.15, "vol": 1.63, "label": "(38.150, 1.63)"}]}, "mark": {"type": "text", "color": "#e83030", "fontSize": 15, "dx": -4, "dy": -22.5, "baseline": "middle"}, "encoding": {"x": {"field": "dose", "type": "quantitative"}, "y": {"datum": 100}, "text": {"field": "label"}}}
]
}
